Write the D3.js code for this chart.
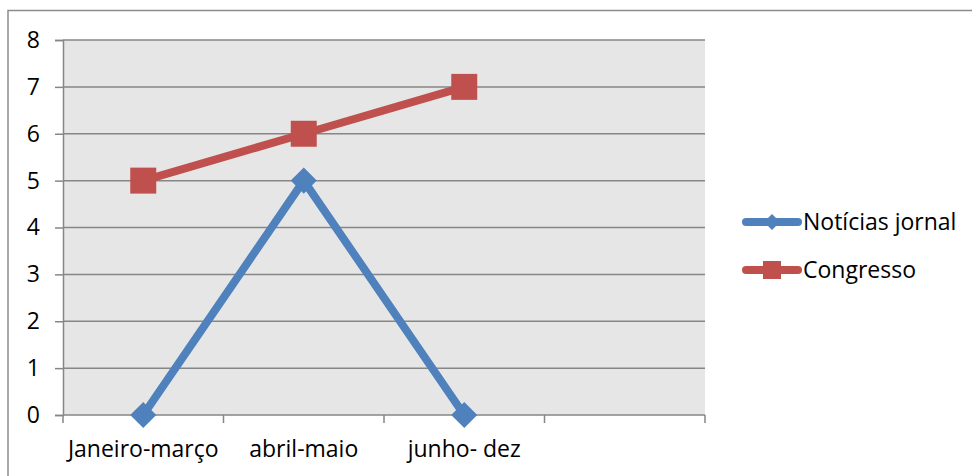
<!DOCTYPE html>
<html><head><meta charset="utf-8">
<script src="https://cdn.jsdelivr.net/npm/d3@7"></script>
<style>html,body{margin:0;padding:0;background:#fff;}svg{display:block;}</style>
</head><body>
<script>
const categories = ["Janeiro-março", "abril-maio", "junho- dez", " "];
const noticiasJornal = [0, 5, 0];
const congresso = [5, 6, 7];
const seriesNames = ["Notícias jornal", "Congresso"];
const yTicks = [0, 1, 2, 3, 4, 5, 6, 7, 8];

const W = 972, H = 476;
const font = "'Open Sans', sans-serif";
const fs = 23;
const svg = d3.select("body").append("svg").attr("width", W).attr("height", H);

svg.append("rect").attr("x", 8).attr("y", 10.5).attr("width", 1000).attr("height", 1000)
  .attr("fill", "#fff").attr("stroke", "#8c8c8c").attr("stroke-width", 1.5);

const pL = 63, pR = 705, pT = 40, pB = 415;
const x = d3.scaleBand().domain(categories).range([pL, pR]).padding(0);
const y = d3.scaleLinear().domain([0, 8]).range([pB, pT]);
const cx = c => x(c) + x.bandwidth() / 2;

svg.append("rect").attr("x", pL).attr("y", pT).attr("width", pR - pL).attr("height", pB - pT)
  .attr("fill", "#e6e6e6");

// y axis with gridlines
const yAxis = svg.append("g").attr("transform", `translate(${pL},0)`)
  .call(d3.axisLeft(y).tickValues(yTicks).tickSize(8).tickPadding(15).tickFormat(d3.format("d")));
yAxis.select(".domain").attr("stroke", "#868686").attr("stroke-width", 1.5);
yAxis.selectAll(".tick line").attr("stroke", "#868686").attr("stroke-width", 1.5);
yAxis.selectAll(".tick text").attr("font-family", font).attr("font-size", fs).attr("fill", "#000");
svg.append("g").selectAll("line").data(yTicks.filter(d => d > 0)).join("line")
  .attr("x1", pL).attr("x2", pR).attr("y1", d => y(d)).attr("y2", d => y(d))
  .attr("stroke", "#868686").attr("stroke-width", 1.5);

// x axis
const bounds = categories.map(c => x(c)).concat([x(categories[categories.length - 1]) + x.bandwidth()]);
svg.append("line").attr("x1", pL).attr("x2", pR).attr("y1", y(0)).attr("y2", y(0))
  .attr("stroke", "#868686").attr("stroke-width", 1.5);
svg.append("g").selectAll("line").data(bounds).join("line")
  .attr("x1", d => d).attr("x2", d => d).attr("y1", y(0)).attr("y2", y(0) + 8)
  .attr("stroke", "#868686").attr("stroke-width", 1.5);
const xAxis = svg.append("g").attr("transform", `translate(0,${pB})`)
  .call(d3.axisBottom(x).tickSize(0).tickPadding(26));
xAxis.select(".domain").remove();
xAxis.selectAll(".tick text").attr("font-family", font).attr("font-size", fs).attr("fill", "#000");

// series
const blue = "#4f81bd", red = "#c0504d";
const line = d3.line().x((d, i) => cx(categories[i])).y(d => y(d));
svg.append("path").datum(noticiasJornal).attr("d", line).attr("fill", "none")
  .attr("stroke", blue).attr("stroke-width", 8).attr("stroke-linejoin", "round");
svg.append("path").datum(congresso).attr("d", line).attr("fill", "none")
  .attr("stroke", red).attr("stroke-width", 8).attr("stroke-linejoin", "round");

svg.append("g").selectAll("path").data(noticiasJornal).join("path")
  .attr("transform", (d, i) => `translate(${cx(categories[i])},${y(d)}) rotate(45)`)
  .attr("d", d3.symbol(d3.symbolSquare, 340)).attr("fill", blue);
svg.append("g").selectAll("path").data(congresso).join("path")
  .attr("transform", (d, i) => `translate(${cx(categories[i])},${y(d)})`)
  .attr("d", d3.symbol(d3.symbolSquare, 676)).attr("fill", red);

// legend
const lg = svg.append("g");
const legendY = [222, 270];
[blue, red].forEach((col, i) => {
  const ly = legendY[i];
  lg.append("line").attr("x1", 746).attr("x2", 798).attr("y1", ly).attr("y2", ly)
    .attr("stroke", col).attr("stroke-width", 8).attr("stroke-linecap", "round");
  if (i === 0) {
    lg.append("path").attr("transform", `translate(772,${ly}) rotate(45)`)
      .attr("d", d3.symbol(d3.symbolSquare, 128)).attr("fill", col);
  } else {
    lg.append("path").attr("transform", `translate(772,${ly})`)
      .attr("d", d3.symbol(d3.symbolSquare, 324)).attr("fill", col);
  }
  lg.append("text").attr("x", 803).attr("y", ly).attr("dy", "0.35em")
    .attr("font-family", font).attr("font-size", fs).attr("fill", "#000").text(seriesNames[i]);
});
</script>
</body></html>
